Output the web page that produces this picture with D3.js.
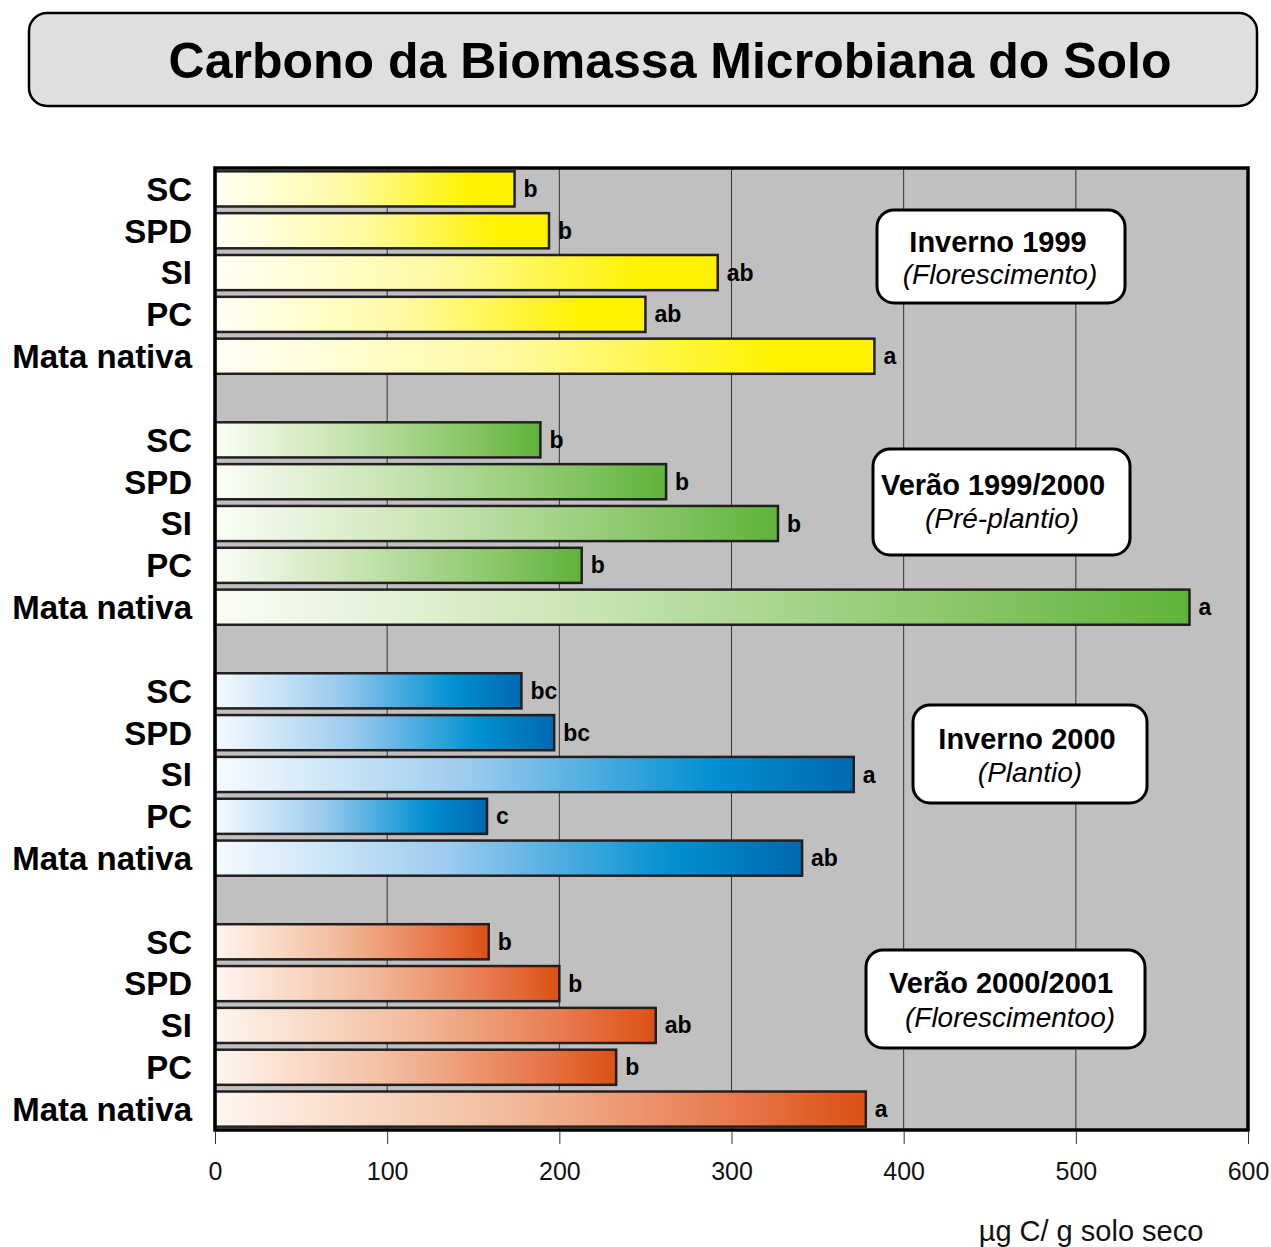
<!DOCTYPE html>
<html><head><meta charset="utf-8">
<script src="https://cdn.jsdelivr.net/npm/d3@7"></script>
<style>body{margin:0;background:#fff}svg{display:block;font-family:"Liberation Sans",Arial,sans-serif}</style>
</head><body>
<script>
const title = "Carbono da Biomassa Microbiana do Solo";
const categories = ["SC","SPD","SI","PC","Mata nativa"];
const seasons = ["Inverno 1999","Verão 1999/2000","Inverno 2000","Verão 2000/2001"];
const subtitles = ["(Florescimento)","(Pré-plantio)","(Plantio)","(Florescimentoo)"];
const valuesInverno1999 = [174,194,292,250,383];
const valuesVerao9900 = [189,262,327,213,566];
const valuesInverno2000 = [178,197,371,158,341];
const valuesVerao0001 = [159,200,256,233,378];
const lettersInverno1999 = ["b","b","ab","ab","a"];
const lettersVerao9900 = ["b","b","b","b","a"];
const lettersInverno2000 = ["bc","bc","a","c","ab"];
const lettersVerao0001 = ["b","b","ab","b","a"];
const xTicks = [0,100,200,300,400,500,600];
const xTitle = "µg C/ g solo seco";

const groupValues = [valuesInverno1999, valuesVerao9900, valuesInverno2000, valuesVerao0001];
const groupLetters = [lettersInverno1999, lettersVerao9900, lettersInverno2000, lettersVerao0001];
const gradStops = [
  [[0,"#fffff6"],[0.45,"#fffaa0"],[0.85,"#fff200"],[1,"#fff200"]],
  [[0,"#fbfdf6"],[0.4,"#c6e3b0"],[0.75,"#8cc86c"],[1,"#5fb33a"]],
  [[0,"#f6fbff"],[0.4,"#9bcbee"],[0.78,"#0090d2"],[1,"#0068b0"]],
  [[0,"#fff6ef"],[0.45,"#f2bb9b"],[0.8,"#e8784c"],[1,"#dc5014"]]
];

const W = 1271, H = 1247;
const svg = d3.select("body").append("svg").attr("width",W).attr("height",H);

// title box
svg.append("rect").attr("x",29).attr("y",13).attr("width",1228).attr("height",93)
  .attr("rx",18).attr("fill","#dfdfdf").attr("stroke","#000").attr("stroke-width",2.5);
svg.append("text").attr("x",670).attr("y",78).attr("text-anchor","middle")
  .attr("font-size",50).attr("font-weight","bold").text(title);

const L = 215, R = 1248, T = 168, B = 1130;
const x = d3.scaleLinear().domain([0,600]).range([L,R]);

// rows with spacers between groups
const rows = [];
seasons.forEach((s,gi)=>{
  categories.forEach((c,ci)=>rows.push({key:gi+"-"+ci, g:gi, c:ci, cat:c, v:groupValues[gi][ci], letter:groupLetters[gi][ci]}));
  if (gi < seasons.length-1) rows.push({key:"gap"+gi, spacer:true});
});
const y = d3.scaleBand().domain(rows.map(r=>r.key)).range([T,B]).paddingInner(0.16).paddingOuter(0.08);

const defs = svg.append("defs");
gradStops.forEach((st,i)=>{
  const g = defs.append("linearGradient").attr("id","grad"+i).attr("x1","0").attr("x2","1").attr("y1","0").attr("y2","0");
  st.forEach(s=>g.append("stop").attr("offset",s[0]).attr("stop-color",s[1]));
});

// background
svg.append("rect").attr("x",L).attr("y",T).attr("width",R-L).attr("height",B-T).attr("fill","#c0c0c0");
// grid
svg.append("g").selectAll("line").data(xTicks.filter(t=>t>0&&t<600)).join("line")
  .attr("x1",d=>x(d)).attr("x2",d=>x(d)).attr("y1",T).attr("y2",B)
  .attr("stroke","#333").attr("stroke-width",1);

const bars = rows.filter(r=>!r.spacer);
svg.append("g").selectAll("rect").data(bars).join("rect")
  .attr("x",x(0)).attr("y",d=>y(d.key)).attr("width",d=>x(d.v)-x(0)).attr("height",y.bandwidth())
  .attr("fill",d=>"url(#grad"+d.g+")").attr("stroke","#231f20").attr("stroke-width",2.5);

svg.append("g").selectAll("text").data(bars).join("text")
  .attr("x",d=>x(d.v)+9).attr("y",d=>y(d.key)+y.bandwidth()/2).attr("dy","0.35em")
  .attr("font-size",23).attr("font-weight","bold").text(d=>d.letter);

// category labels
svg.append("g").selectAll("text").data(bars).join("text")
  .attr("x",192).attr("y",d=>y(d.key)+y.bandwidth()/2).attr("dy","0.36em").attr("text-anchor","end")
  .attr("font-size",33).attr("font-weight","bold").text(d=>d.cat);

// frame
svg.append("rect").attr("x",L).attr("y",T).attr("width",R-L).attr("height",B-T)
  .attr("fill","none").attr("stroke","#000").attr("stroke-width",3.5);

// axis
const ax = svg.append("g").attr("transform",`translate(0,${B+2})`)
  .call(d3.axisBottom(x).tickValues(xTicks).tickSize(12).tickFormat(d3.format("d")));
ax.select(".domain").remove();
ax.selectAll("line").attr("stroke","#333");
ax.selectAll("text").attr("font-size",25).attr("font-family","'Liberation Sans',Arial,sans-serif").attr("fill","#111").attr("dy","1.3em");

svg.append("text").attr("x",1091).attr("y",1241).attr("text-anchor","middle")
  .attr("font-size",29).attr("fill","#111").text(xTitle);

// annotation boxes
const boxes = [
  {x:877,y:210,w:248,h:93,cx:998,cx2:1000,b1:252,b2:284},
  {x:873,y:449,w:257,h:106,cx:993,cx2:1002,b1:495,b2:528},
  {x:913,y:705,w:234,h:98,cx:1027,cx2:1030,b1:749,b2:782},
  {x:866,y:950,w:279,h:98,cx:1001,cx2:1010,b1:993,b2:1027}
];
boxes.forEach((b,i)=>{
  svg.append("rect").attr("x",b.x).attr("y",b.y).attr("width",b.w).attr("height",b.h)
    .attr("rx",17).attr("fill","#fff").attr("stroke","#000").attr("stroke-width",3);
  svg.append("text").attr("x",b.cx).attr("y",b.b1).attr("text-anchor","middle")
    .attr("font-size",29).attr("font-weight","bold").text(seasons[i]);
  svg.append("text").attr("x",b.cx2).attr("y",b.b2).attr("text-anchor","middle")
    .attr("font-size",28).attr("font-style","italic").text(subtitles[i]);
});
</script>
</body></html>
